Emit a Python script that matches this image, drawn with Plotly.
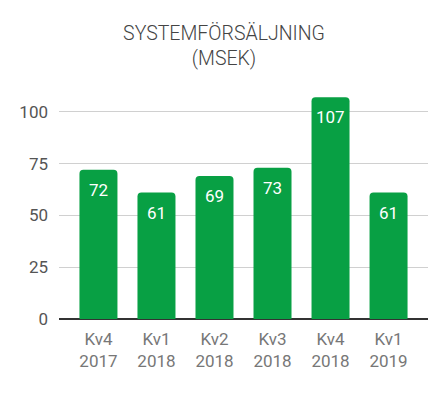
import plotly.graph_objects as go

categories = ["Kv4<br>2017", "Kv1<br>2018", "Kv2<br>2018", "Kv3<br>2018", "Kv4<br>2018", "Kv1<br>2019"]
values = [72, 61, 69, 73, 107, 61]
y_ticks = [0, 25, 50, 75, 100]

xs = list(range(len(categories)))
fig = go.Figure(go.Bar(
    x=xs, y=values,
    marker=dict(color="#08a044", cornerradius=4, line=dict(width=0)),
    width=0.655, hoverinfo="y",
))
for x, v in zip(xs, values):
    fig.add_annotation(x=x, y=v, text=str(v), showarrow=False, yanchor="top", yshift=-8,
                       font=dict(color="white", size=17, family="Roboto"))
fig.update_layout(
    width=448, height=396, margin=dict(l=59, r=20, t=91, b=77),
    paper_bgcolor="white", plot_bgcolor="white",
    font=dict(family="Roboto", color="#666"),
    title=dict(text="SYSTEMFÖRSÄLJNING<br>(MSEK)", x=0.5, xanchor="center", y=0.9, yanchor="middle",
               font=dict(size=19.5, color="#444", family="Roboto", weight=300)),
    showlegend=False,
)
fig.update_xaxes(tickvals=xs, ticktext=categories, range=[-0.68, 5.68],
                 showgrid=False, tickfont=dict(size=17, color="#777"), ticks="", showline=False,
                 zeroline=False, ticklabelstandoff=8)
fig.update_yaxes(range=[0, 110], tickvals=y_ticks, showgrid=True, gridcolor="#d0d0d0", gridwidth=1,
                 zeroline=True, zerolinecolor="#333", zerolinewidth=2,
                 tickfont=dict(size=17, color="#555"), ticks="", ticklabelstandoff=10)
fig.write_html("out.html")
